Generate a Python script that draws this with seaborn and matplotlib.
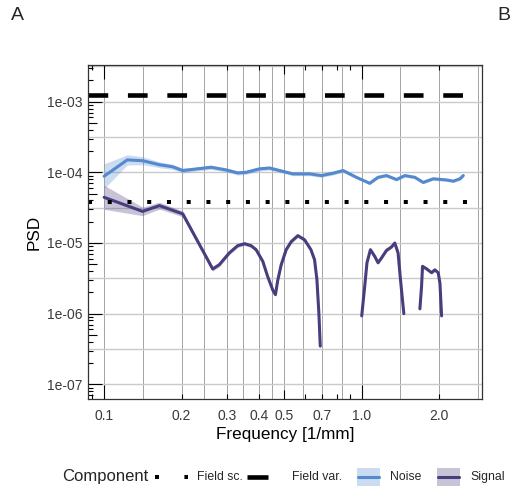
import numpy as np
import pandas as pd
import matplotlib
matplotlib.use("Agg")
import matplotlib.pyplot as plt
import seaborn as sns
from matplotlib.lines import Line2D
from matplotlib.patches import Rectangle
from matplotlib.ticker import NullLocator

sns.set_theme(style="white")
plt.rcParams["font.family"] = ["Liberation Sans", "DejaVu Sans"]

# ---------------- data ----------------
noise_freq = [0.100, 0.123, 0.141, 0.164, 0.184, 0.202, 0.221, 0.260, 0.298, 0.330,
              0.356, 0.401, 0.439, 0.480, 0.540, 0.628, 0.697, 0.773, 0.846, 0.954,
              1.074, 1.157, 1.248, 1.365, 1.470, 1.608, 1.732, 1.894, 2.136, 2.266,
              2.406, 2.479]
noise_psd = [8.8e-5, 1.50e-4, 1.46e-4, 1.28e-4, 1.20e-4, 1.06e-4, 1.10e-4, 1.18e-4, 1.08e-4, 9.8e-5,
             1.0e-4, 1.12e-4, 1.15e-4, 1.06e-4, 9.5e-5, 9.5e-5, 9.0e-5, 9.7e-5, 1.06e-4, 8.5e-5,
             7.0e-5, 8.5e-5, 9.0e-5, 7.9e-5, 9.0e-5, 8.5e-5, 7.2e-5, 8.1e-5, 7.8e-5, 7.5e-5,
             8.1e-5, 9.0e-5]
noise_spread = [1.50, 1.18, 1.14, 1.10, 1.09, 1.08, 1.07, 1.07, 1.07, 1.07,
                1.07, 1.07, 1.07, 1.06, 1.06, 1.06, 1.06, 1.06, 1.06, 1.05,
                1.05, 1.05, 1.05, 1.05, 1.05, 1.05, 1.05, 1.05, 1.05, 1.05,
                1.05, 1.05]

signal_seg = [1] * 27 + [2] * 13 + [3] * 9
signal_freq = [0.100, 0.141, 0.164, 0.202, 0.264, 0.280, 0.306, 0.330, 0.351, 0.372,
               0.389, 0.413, 0.431, 0.452, 0.4625, 0.472, 0.487, 0.509, 0.533, 0.565,
               0.600, 0.635, 0.656, 0.670, 0.682, 0.690, 0.6905,
               1.000, 1.027, 1.048, 1.081, 1.123, 1.157, 1.193, 1.248, 1.305, 1.344,
               1.384, 1.414, 1.457,
               1.682, 1.707, 1.722, 1.786, 1.867, 1.923, 1.981, 2.012, 2.042]
signal_psd = [4.43e-5, 2.8e-5, 3.38e-5, 2.58e-5, 4.29e-6, 4.93e-6, 7.22e-6, 9.16e-6, 9.77e-6, 9.16e-6,
              8.04e-6, 5.5e-6, 3.39e-6, 2.14e-6, 1.86e-6, 2.95e-6, 4.93e-6, 8.04e-6, 1.05e-5, 1.27e-5,
              1.11e-5, 8.04e-6, 5.8e-6, 3.03e-6, 1.0e-6, 3.6e-7, 3.47e-7,
              9.3e-7, 2.43e-6, 5.25e-6, 8.04e-6, 6.47e-6, 5.25e-6, 6.13e-6, 7.87e-6, 8.78e-6, 1.0e-5,
              7.22e-6, 3.03e-6, 1.0e-6,
              1.17e-6, 2.43e-6, 4.68e-6, 4.30e-6, 3.8e-6, 4.17e-6, 3.8e-6, 2.69e-6, 9.3e-7]
signal_spread = [1.48, 1.15, 1.12, 1.10, 1.07, 1.07, 1.06, 1.06, 1.06, 1.06,
                 1.06, 1.06, 1.06, 1.06, 1.06, 1.06, 1.06, 1.06, 1.06, 1.06,
                 1.06, 1.06, 1.06, 1.06, 1.06, 1.06, 1.06,
                 1.05, 1.05, 1.05, 1.05, 1.05, 1.05, 1.05, 1.05, 1.05, 1.05,
                 1.05, 1.05, 1.05,
                 1.05, 1.05, 1.05, 1.05, 1.05, 1.05, 1.05, 1.05, 1.05]

field_var = 1.26e-3
field_sc = 3.77e-5

x_breaks = [0.1, 0.2, 0.3, 0.4, 0.5, 0.7, 1.0, 2.0]
x_labels = ["0.1", "0.2", "0.3", "0.4", "0.5", "0.7", "1.0", "2.0"]
y_breaks = [1e-7, 1e-6, 1e-5, 1e-4, 1e-3]
y_labels = ["1e-07", "1e-06", "1e-05", "1e-04", "1e-03"]

components = ["Field sc.", "Field var.", "Noise", "Signal"]
noise_col = "#5589CF"
signal_col = "#4B3C7E"

# ---------------- figure ----------------
W, H = 512, 495
fig = plt.figure(figsize=(W / 100, H / 100), dpi=100)
fig.patch.set_facecolor("white")
ax = fig.add_axes([88 / W, 96 / H, 394 / W, 334 / H])
ax.set_facecolor("white")

df = pd.concat([
    pd.DataFrame({"freq": noise_freq, "psd": noise_psd, "spread": noise_spread,
                  "component": "Noise", "seg": 0}),
    pd.DataFrame({"freq": signal_freq, "psd": signal_psd, "spread": signal_spread,
                  "component": "Signal", "seg": signal_seg}),
], ignore_index=True)

ax.set_xscale("log")
ax.set_yscale("log")
xlim = (0.0866, 2.93)
ylim = (10 ** -7.208, 10 ** -2.481)

# grid (major + geometric-midpoint minors, like ggplot)
xb = np.log10(x_breaks)
x_minor = list(10 ** ((xb[:-1] + xb[1:]) / 2)) + [10 ** (xb[-1] + (xb[-1] - xb[-2]) / 2)]
for v in list(x_breaks) + x_minor:
    ax.axvline(v, color="#a4a4a4", lw=0.7, zorder=0)
yb = np.log10(y_breaks)
y_minor = list(10 ** ((yb[:-1] + yb[1:]) / 2)) + [10 ** (yb[-1] + 0.5)]
for v in list(y_breaks) + y_minor:
    ax.axhline(v, color="#cacaca", lw=1.0, zorder=0)

# ribbons
pal = {"Noise": noise_col, "Signal": signal_col}
for (comp, seg), g in df.groupby(["component", "seg"]):
    ax.fill_between(g["freq"], g["psd"] / g["spread"], g["psd"] * g["spread"],
                    color=pal[comp], alpha=0.3, lw=0, zorder=2)

# lines
sns.lineplot(data=df, x="freq", y="psd", hue="component", units="seg", estimator=None,
             palette=pal, linewidth=2.2, legend=False, sort=False, ax=ax, zorder=3)

# reference lines, spanning the full panel, dashes starting at the left edge
ax.plot(list(xlim), [field_var, field_var], color="black", lw=3.3, dashes=(4.3, 4.3),
        dash_capstyle="butt", zorder=4)
ax.plot(list(xlim), [field_sc, field_sc], color="black", lw=2.9, dashes=(1.0, 3.9),
        dash_capstyle="butt", zorder=4)

ax.set_xlim(*xlim)
ax.set_ylim(*ylim)

# log ticks (annotation_logticks style) on left, bottom and top
axw, axh = 394, 334
ytr = ax.get_yaxis_transform()
xtr = ax.get_xaxis_transform()
for n in range(-9, 1):
    for k in range(1, 10):
        v = k * 10.0 ** n
        L = 14 if k == 1 else (9 if k == 5 else 5)
        if ylim[0] <= v <= ylim[1]:
            ax.plot([0, L / axw], [v, v], transform=ytr, color="black", lw=0.8, zorder=5,
                    solid_capstyle="butt")
        if xlim[0] <= v <= xlim[1]:
            ax.plot([v, v], [0, L / axh], transform=xtr, color="black", lw=0.8, zorder=5,
                    solid_capstyle="butt")
            ax.plot([v, v], [1, 1 - L / axh], transform=xtr, color="black", lw=0.8, zorder=5,
                    solid_capstyle="butt")

ax.set_xticks(x_breaks, labels=x_labels)
ax.set_yticks(y_breaks, labels=y_labels)
ax.xaxis.set_minor_locator(NullLocator())
ax.yaxis.set_minor_locator(NullLocator())
ax.tick_params(axis="both", length=0, labelsize=10, labelcolor="#3a3a3a")
ax.tick_params(axis="x", pad=7)
ax.tick_params(axis="y", pad=4)
ax.set_xlabel("Frequency [1/mm]", fontsize=12.3, color="black", labelpad=3)
ax.set_ylabel("PSD", fontsize=12.3, color="black", labelpad=4)
for s in ax.spines.values():
    s.set_color("#333333")
    s.set_linewidth(0.9)
    s.set_zorder(6)

# ---------------- legend (bottom, horizontal) ----------------
def fx(x):
    return x / W

def fy(y):
    return 1 - y / H

ly = 477
fig.text(fx(62), fy(ly), "Component", fontsize=12.0, va="center", ha="left")
# Field sc.
fig.add_artist(Line2D([fx(155), fx(188)], [fy(ly), fy(ly)], color="black", lw=2.9,
                      dashes=(1.0, 6.3), dash_capstyle="butt"))
fig.text(fx(197), fy(ly), components[0], fontsize=8.8, va="center", ha="left")
# Field var.
fig.add_artist(Line2D([fx(247), fx(268)], [fy(ly), fy(ly)], color="black", lw=3.3,
                      solid_capstyle="butt"))
fig.text(fx(292), fy(ly), components[1], fontsize=8.8, va="center", ha="left")
# Noise
fig.add_artist(Rectangle((fx(357), fy(486)), fx(23), 18 / H, facecolor=noise_col, alpha=0.3,
                         lw=0, transform=fig.transFigure))
fig.add_artist(Line2D([fx(358), fx(379)], [fy(ly), fy(ly)], color=noise_col, lw=2.2))
fig.text(fx(390), fy(ly), components[2], fontsize=8.8, va="center", ha="left")
# Signal
fig.add_artist(Rectangle((fx(437), fy(486)), fx(23), 18 / H, facecolor=signal_col, alpha=0.3,
                         lw=0, transform=fig.transFigure))
fig.add_artist(Line2D([fx(438), fx(459)], [fy(ly), fy(ly)], color=signal_col, lw=2.2))
fig.text(fx(470), fy(ly), components[3], fontsize=8.8, va="center", ha="left")

# panel tags
fig.text(fx(11), fy(16), "A", fontsize=14, va="center", ha="left")
fig.text(fx(497), fy(16), "B", fontsize=14, va="center", ha="left")

fig.savefig("out.png", dpi=100, facecolor="white")
